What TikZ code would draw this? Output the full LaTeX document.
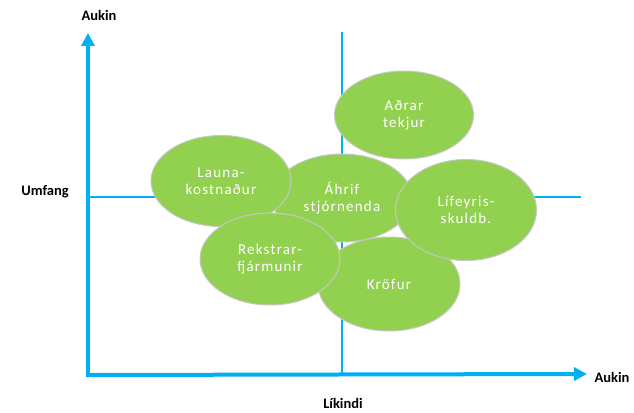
\documentclass[tikz,border=0pt]{standalone}
\usepackage{fontspec}
\setmainfont{Carlito}
\newfontfamily\riskfont[LetterSpace=8]{Carlito}
\usepackage{tikz}
\usetikzlibrary{shapes.geometric, arrows.meta}
\definecolor{axisblue}{HTML}{00B0F0}
\definecolor{riskgreen}{HTML}{92D050}
\tikzset {
    x=1pt, y=-1pt,
    axis/.style={line width=4pt, draw=axisblue, -{Triangle[length=13pt, width=13pt]}},
    quad/.style={line width=1.2pt, draw=axisblue},
    risk/.style={ellipse, fill=riskgreen, draw=black!22, line width=1pt,
        minimum width=140pt, minimum height=90pt, inner sep=0pt,
        text=white, align=center, font=\riskfont\fontsize{15}{17}\selectfont},
    label/.style={font=\bfseries\fontsize{14.5}{17}\selectfont, inner sep=0pt}
}

\begin{document}
\begin{tikzpicture}
    \useasboundingbox (0,0) rectangle (634,412);

    % axes and quadrant lines
    \coordinate (o) at (88,375);
    \coordinate (ytop) at (88,33);
    \coordinate (xend) at (587,374);
    \coordinate (vtop) at (342,32);
    \coordinate (vbot) at (342,375);
    \coordinate (hleft) at (88,197);
    \coordinate (hright) at (581,197);

    \draw[quad] (vtop) -- (vbot);
    \draw[quad] (hleft) -- (hright);
    \draw[axis] ([yshift=-2pt]o) -- (ytop);
    \draw[axis] ([xshift=-2pt]o) -- (xend);

    \node[label] (ylab) at (99,15) {Aukin};
    \node[label] (umfang) at (45,192) {Umfang};
    \node[label] (xlab) at (612,377) {Aukin};
    \node[label] (likindi) at (343,403) {Líkindi};

    % risk items
    \node[risk, minimum width=142pt, minimum height=94pt] (krofur) at (389,284) {Kröfur};
    \node[risk, minimum height=88pt] (ahrif) at (342,198) {Áhrif\\stjórnenda};
    \node[risk, minimum height=91pt] (launa) at (221,181) {Launa-\\kostnaður};
    \node[risk, minimum height=92pt] (rekstrar) at (270,259) {Rekstrar-\\fjármunir};
    \node[risk, minimum width=139pt, minimum height=88pt] (adrar) at (404,115) {Aðrar\\tekjur};
    \node[risk, minimum width=141pt, minimum height=101pt] (lifeyris) at (466,210) {Lífeyris-\\skuldb.};
\end{tikzpicture}
\end{document}
